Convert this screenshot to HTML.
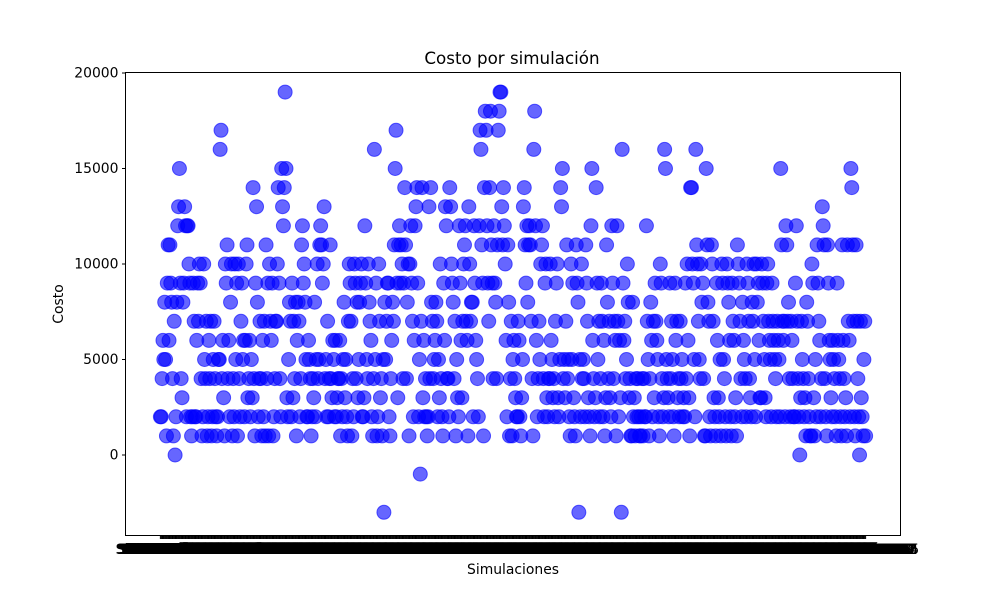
<!DOCTYPE html>
<html><head><meta charset="utf-8">
<style>
html,body{margin:0;padding:0;background:#fff;}
svg{display:block;font-family:"DejaVu Sans","Liberation Sans",sans-serif;}
</style></head>
<body>
<svg id="chart" width="1000" height="600" viewBox="0 0 1000 600">
  <rect x="0" y="0" width="1000" height="600" fill="#fff"/>
  <text x="512" y="64" font-size="16.7" text-anchor="middle" fill="#000">Costo por simulación</text>
  <g id="xlabels"></g>
  <g id="xticks"></g>
  <g id="yticks"></g>
  <g id="points"></g>
  <rect x="125.5" y="72.5" width="775" height="463" fill="none" stroke="#000" stroke-width="1"/>
  <text x="513" y="574" font-size="13.9" text-anchor="middle" fill="#000">Simulaciones</text>
  <text transform="translate(63,304) rotate(-90)" font-size="13.9" text-anchor="middle" fill="#000">Costo</text>
</svg>
<script>
const yTicks = [0, 5000, 10000, 15000, 20000];
const costK = [
2,2,4,6,5, 8,5,1,9,11,6, 11,9,8,4,1,7, 0,2,8,12,13,15,9, 4,3,8,9,13,12,2, 12,12,10,9,2,1,2,
9,7,2,2,6,9, 7,10,9,4,1,2, 10,5,4,7,1,2, 6,4,7,1,2,5, 7,4,2,1,2,5, 5,16,17,4,6,3,1,
10,9,11,4,6,2, 8,10,1,4,2,10, 5,9,1,10,4,2, 7,9,5,6,2,6, 10,11,3,4,6,2, 5,3,14,4,1,9,
13,8,2,4,7, 4,1,6,2,7,1, 11,4,9,1,10,7, 6,9,1,2,4,7, 7,10,14,9,4,2, 15,13,12,14,19,15,
3,2,5,8,7,2, 9,3,7,4,8,1, 6,8,7,2,4,11, 12,9,10,8,5,2, 2,6,5,4,1,2, 4,3,8,2,5,
10,4,5,11,12, 11,9,10,13,4, 5,2,7,2,4,11, 4,3,6,5,2,6, 2,3,4,4,6,1, 4,2,5,8,3,
5,2,1,7, 10,9,7,1,4,2, 10,9,4,8,3,5, 8,9,10,2,2,3, 12,9,5,4,10, 8,7,6,2,1,4,
16,5,9,1,2, 10,7,3,4,1,5, -3,8,5,7,9,9, 2,1,4,6,8,7, 11,15,17,9,3,11, 12,9,11,10,4,9,
14,11,4,8,10,1, 10,12,9,7,2,6, 12,13,14,9,2,5, -1,7,14,3,6,2, 4,2,1,2,13,4,
14,8,7,4,5, 6,8,7,2,5,3, 10,4,2,1,9,6, 13,12,4,4,2, 14,13,10,9,8, 4,7,1,5,3,2,
12,9,6,3,7, 10,11,12,7,6,1, 13,10,7,8,8,2, 12,9,6,5,4,2, 12,17,16,11,9,1,
14,18,17,12,9,7, 14,18,11,9,4, 12,9,8,4,11, 17,18,19,19,13,11, 14,12,10,6,2,
11,8,1,4,7,1, 5,6,4,3,2,2, 7,6,2,1,3,5, 13,14,11,9,12,8, 11,12,11,7,4,1,
16,18,12,6,2,4, 7,5,10,11,12,4,2, 9,10,3,2,4,4, 10,6,5,3,4,2, 7,9,10,3,2,5,
14,13,15,4,5,3, 7,11,4,5,2,1, 10,5,9,3,2,1, 11,9,8,-3,5,2, 10,4,5,4,2,
11,9,7,3,2,1, 12,15,6,4,2,3, 14,9,5,7,2,4, 9,7,2,6,1,3, 11,8,4,7,3,2,
12,9,4,7,6,1, 12,7,2,6,3,-3, 16,9,6,7,4,5, 10,8,3,4,1,1, 8,2,3,1,4,2,
4,2,1,1,2, 4,1,4,2,2, 12,7,5,1,4, 8,6,2,7,3, 9,7,6,5,2,1, 10,9,4,2,3,
16,15,5,4,3,2, 9,4,7,5,2,1, 9,6,7,3,4,2, 7,4,5,2,3,2, 9,4,10,6,3,1,
14,14,10,9,5,2, 16,11,10,7,5,4, 10,8,9,4,1,1, 15,11,8,7,2,1, 11,10,7,3,2,1,
9,6,3,2,5,1, 10,9,5,4,2,1, 10,9,8,6,2,1, 9,7,6,2,3,1, 11,10,9,7,4,2,
8,6,5,4,2, 10,9,7,4,3,2, 8,7,10,5,2, 10,8,9,6,3,3, 10,9,7,5,3,2,
9,10,7,6,5,2, 9,7,6,5,4,2, 7,6,5,2, 15,11,7,6,7,2, 12,11,7,8,4,2,
7,6,4,2,2,9, 12,7,4,2,0,3, 7,5,4,2,3,1, 8,7,4,2,1,1, 10,9,3,1,5,2,
11,9,7,6,2,4, 13,12,11,4,2,1, 11,9,6,5,3,2, 6,5,4,2,1, 9,6,5,4,2,1,
11,6,4,2,3,1, 11,7,6,2, 15,14,11,7,2,1, 11,7,4,2,0, 7,3,2,1, 5,7,1
];
const costs = costK.map(v => v * 1000);
const categories = costs.map((_, i) => 'Simulación ' + (i + 1));

const NS = 'http://www.w3.org/2000/svg';
const X0 = 125.5, X1 = 900.5, Y0 = 72.5, Y1 = 535.5;
const N = categories.length;
const pad = (X1 - X0) * 0.045;
function xScale(i) { return X0 + pad + i * ((X1 - X0 - 2 * pad) / (N - 1)); }
function yScale(v) { return 455 - v * (382 / 20000); }

const yg = document.getElementById('yticks');
yTicks.forEach(t => {
  const y = yScale(t);
  const ln = document.createElementNS(NS, 'line');
  ln.setAttribute('x1', X0 - 3.5); ln.setAttribute('x2', X0);
  ln.setAttribute('y1', y); ln.setAttribute('y2', y);
  ln.setAttribute('stroke', '#000');
  
  
  yg.appendChild(ln);
  const tx = document.createElementNS(NS, 'text');
  tx.setAttribute('x', X0 - 7); tx.setAttribute('y', y + 4.5);
  tx.setAttribute('font-size', '13.9'); tx.setAttribute('text-anchor', 'end');
  tx.textContent = String(t);
  
  
  yg.appendChild(tx);
});

const xg = document.getElementById('xticks');
const xl = document.getElementById('xlabels');
categories.forEach((c, i) => {
  const x = xScale(i);
  const ln = document.createElementNS(NS, 'line');
  ln.setAttribute('x1', x); ln.setAttribute('x2', x);
  ln.setAttribute('y1', Y1); ln.setAttribute('y2', Y1 + 3.5);
  ln.setAttribute('stroke', '#000');
  
  
  xg.appendChild(ln);
  const tx = document.createElementNS(NS, 'text');
  tx.setAttribute('x', x); tx.setAttribute('y', 554);
  tx.setAttribute('font-size', '13.9'); tx.setAttribute('text-anchor', 'middle');
  tx.textContent = c;
  
  
  xl.appendChild(tx);
});

const pg = document.getElementById('points');
costs.forEach((v, i) => {
  const ci = document.createElementNS(NS, 'circle');
  ci.setAttribute('cx', xScale(i)); ci.setAttribute('cy', yScale(v));
  ci.setAttribute('r', 7);
  ci.setAttribute('fill', 'rgba(0,0,255,0.6)');
  ci.setAttribute('stroke', 'rgba(0,0,255,0.6)');
  ci.setAttribute('stroke-width', '1');
  
  
  pg.appendChild(ci);
});
</script>
</body></html>
